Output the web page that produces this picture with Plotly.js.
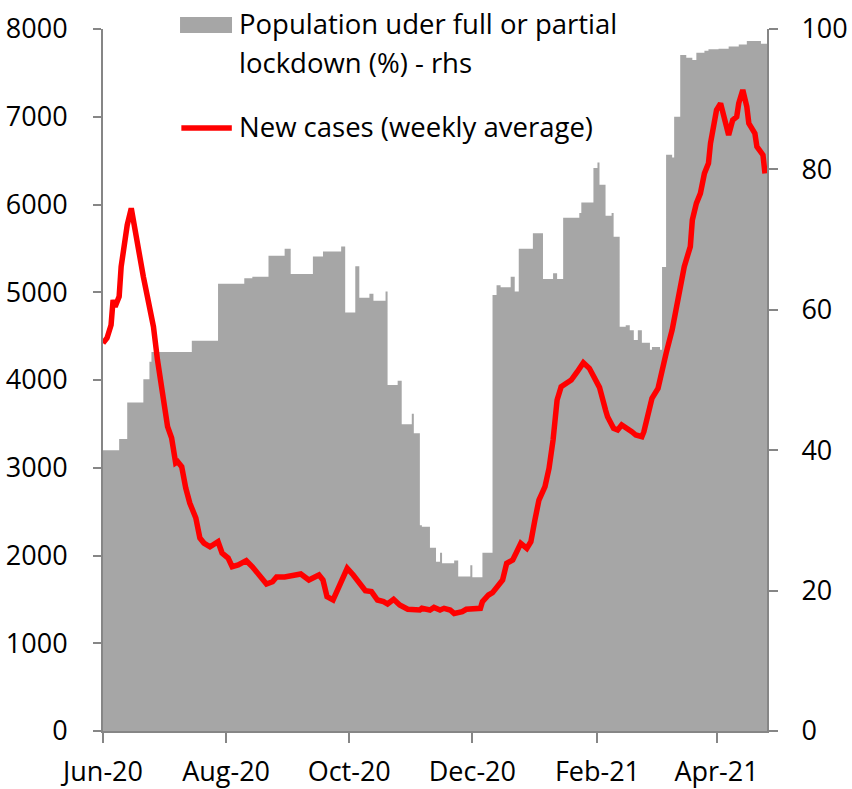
<!DOCTYPE html>
<html>
<head>
<meta charset="utf-8">
<script src="https://cdn.plot.ly/plotly-3.0.1.min.js"></script>
<style>html,body{margin:0;padding:0;background:#fff;}#chart{width:852px;height:789px;}</style>
</head>
<body>
<div id="chart"></div>
<script>
// Population under full or partial lockdown (%) - right axis
const lockDates = ["2020-06-01","2020-06-09","2020-06-13","2020-06-21","2020-06-24","2020-06-25","2020-07-15","2020-07-28","2020-08-10","2020-08-14","2020-08-22","2020-08-30","2020-09-02","2020-09-13","2020-09-18","2020-09-27","2020-09-29","2020-10-04","2020-10-06","2020-10-11","2020-10-13","2020-10-19","2020-10-20","2020-10-25","2020-10-27","2020-11-01","2020-11-02","2020-11-05","2020-11-06","2020-11-10","2020-11-13","2020-11-15","2020-11-16","2020-11-22","2020-11-24","2020-11-30","2020-12-01","2020-12-06","2020-12-11","2020-12-13","2020-12-15","2020-12-20","2020-12-22","2020-12-24","2020-12-31","2021-01-05","2021-01-10","2021-01-12","2021-01-15","2021-01-23","2021-01-24","2021-01-30","2021-02-01","2021-02-02","2021-02-05","2021-02-08","2021-02-09","2021-02-12","2021-02-15","2021-02-17","2021-02-19","2021-02-21","2021-02-23","2021-02-27","2021-02-28","2021-03-04","2021-03-05","2021-03-07","2021-03-10","2021-03-11","2021-03-14","2021-03-17","2021-03-20","2021-03-22","2021-03-26","2021-03-28","2021-04-02","2021-04-07","2021-04-12","2021-04-16","2021-04-21","2021-04-23","2021-04-26"];
const lockValues = [40,41.6,46.8,50.1,52.6,54.0,55.6,63.7,64.5,64.7,67.7,68.7,65.1,67.6,68.3,69.0,59.6,66.2,61.7,62.3,61.3,62.6,49.3,49.9,43.7,45.2,42.4,29.3,29.1,26.1,24.1,25.4,23.9,24.3,22.0,23.6,21.9,25.4,62.1,63.5,63.2,64.7,62.6,68.7,70.9,64.4,65.2,64.4,73.1,73.8,75.3,80.2,81.0,77.8,73.4,73.8,70.4,57.6,57.8,57.1,55.7,57.1,55.3,54.3,54.7,54.3,66.1,82.1,81.7,87.5,96.3,95.9,95.6,96.6,96.9,97.1,97.2,97.5,97.8,98.3,98.3,97.9,98.1];

// New cases (weekly average) - left axis
const caseDates = ["2020-06-01","2020-06-03","2020-06-05","2020-06-06","2020-06-07","2020-06-09","2020-06-10","2020-06-12","2020-06-13","2020-06-15","2020-06-17","2020-06-18","2020-06-20","2020-06-21","2020-06-23","2020-06-24","2020-06-26","2020-06-28","2020-06-29","2020-07-01","2020-07-03","2020-07-05","2020-07-07","2020-07-08","2020-07-10","2020-07-12","2020-07-14","2020-07-17","2020-07-19","2020-07-21","2020-07-24","2020-07-28","2020-07-30","2020-08-02","2020-08-04","2020-08-07","2020-08-11","2020-08-14","2020-08-16","2020-08-19","2020-08-21","2020-08-24","2020-08-26","2020-08-30","2020-09-03","2020-09-07","2020-09-11","2020-09-13","2020-09-16","2020-09-18","2020-09-20","2020-09-23","2020-09-25","2020-09-27","2020-09-30","2020-10-03","2020-10-06","2020-10-09","2020-10-12","2020-10-15","2020-10-18","2020-10-20","2020-10-23","2020-10-26","2020-10-30","2020-11-02","2020-11-05","2020-11-06","2020-11-10","2020-11-12","2020-11-15","2020-11-17","2020-11-20","2020-11-22","2020-11-26","2020-11-28","2020-12-01","2020-12-05","2020-12-06","2020-12-09","2020-12-11","2020-12-14","2020-12-16","2020-12-18","2020-12-21","2020-12-23","2020-12-25","2020-12-28","2020-12-30","2021-01-01","2021-01-03","2021-01-06","2021-01-08","2021-01-10","2021-01-12","2021-01-14","2021-01-17","2021-01-19","2021-01-22","2021-01-25","2021-01-28","2021-01-31","2021-02-02","2021-02-05","2021-02-06","2021-02-09","2021-02-11","2021-02-13","2021-02-16","2021-02-18","2021-02-20","2021-02-23","2021-02-24","2021-02-26","2021-02-28","2021-03-03","2021-03-05","2021-03-07","2021-03-10","2021-03-12","2021-03-15","2021-03-16","2021-03-19","2021-03-20","2021-03-22","2021-03-24","2021-03-26","2021-03-28","2021-03-29","2021-03-31","2021-04-01","2021-04-03","2021-04-05","2021-04-07","2021-04-09","2021-04-11","2021-04-12","2021-04-14","2021-04-16","2021-04-17","2021-04-20","2021-04-21","2021-04-24","2021-04-25"];
const caseValues = [4420,4478,4627,4912,4836,4950,5292,5633,5766,5957,5675,5576,5333,5177,4950,4855,4607,4228,4076,3750,3468,3339,3054,3069,3012,2769,2598,2427,2199,2142,2100,2157,2028,1971,1872,1892,1941,1872,1815,1721,1675,1701,1755,1755,1778,1789,1721,1740,1778,1721,1531,1493,1607,1701,1854,1778,1683,1599,1588,1493,1474,1447,1501,1436,1387,1379,1379,1398,1379,1409,1379,1398,1379,1340,1360,1387,1387,1398,1474,1550,1576,1650,1721,1911,1949,2043,2139,2082,2157,2405,2632,2784,2993,3316,3772,3924,3981,4000,4095,4198,4133,4000,3916,3658,3582,3449,3430,3487,3449,3411,3373,3354,3411,3601,3791,3905,4133,4304,4570,4817,5102,5292,5520,5823,6013,6127,6355,6469,6697,6963,7077,7153,6963,6792,6963,7000,7153,7305,7115,6925,6811,6659,6564,6355];

// Axis ticks and labels
const xTickVals = ["2020-06-01","2020-08-01","2020-10-01","2020-12-01","2021-02-01","2021-04-01"];
const xTickText = ["Jun-20","Aug-20","Oct-20","Dec-20","Feb-21","Apr-21"];
const leftTickVals = [0,1000,2000,3000,4000,5000,6000,7000,8000];
const rightTickVals = [0,20,40,60,80,100];

const lockName = "Population uder full or partial lockdown (%) - rhs";
const caseName = "New cases (weekly average)";

const FONT = "'Open Sans', 'Noto Sans', sans-serif";
const AXIS_COLOR = "#868686";

const traces = [
  {
    x: lockDates, y: lockValues, name: lockName,
    type: "scatter", mode: "lines", line: {shape: "hv", width: 0, color: "#A6A6A6"},
    fill: "tozeroy", fillcolor: "#A6A6A6", xaxis: "x", yaxis: "y", hoverinfo: "x+y"
  },
  {
    x: caseDates, y: caseValues, name: caseName,
    type: "scatter", mode: "lines", line: {color: "#FF0000", width: 5.5},
    xaxis: "x", yaxis: "y2"
  }
];

const layout = {
  width: 852, height: 789,
  margin: {l: 103, r: 85, t: 29, b: 58},
  paper_bgcolor: "#ffffff", plot_bgcolor: "#ffffff",
  font: {family: FONT, size: 27, color: "#000000"},
  showlegend: false,
  xaxis: {
    type: "date", range: ["2020-06-01", "2021-04-26"],
    tickvals: xTickVals, ticktext: xTickText,
    ticks: "outside", ticklen: 10, tickwidth: 2, tickcolor: AXIS_COLOR,
    showline: true, linecolor: AXIS_COLOR, linewidth: 2,
    showgrid: false, zeroline: false, ticklabelstandoff: 6,
    tickfont: {family: FONT, size: 27, color: "#000"}
  },
  yaxis: {
    side: "right", range: [0, 100], tickvals: rightTickVals,
    ticks: "outside", ticklen: 9, tickwidth: 2, tickcolor: AXIS_COLOR,
    showline: true, linecolor: AXIS_COLOR, linewidth: 2,
    showgrid: false, zeroline: false, ticklabelstandoff: 18,
    tickfont: {family: FONT, size: 27, color: "#000"}
  },
  yaxis2: {
    side: "left", overlaying: "y", range: [0, 8000], tickvals: leftTickVals,
    ticks: "outside", ticklen: 8, tickwidth: 2, tickcolor: AXIS_COLOR,
    showline: true, linecolor: AXIS_COLOR, linewidth: 2,
    showgrid: false, zeroline: false, ticklabelstandoff: 20,
    tickfont: {family: FONT, size: 27, color: "#000"}
  },
  shapes: [
    {type: "rect", xref: "paper", yref: "paper", x0: 0.116, x1: 0.1943, y0: 0.9943, y1: 1.0171,
     fillcolor: "#A6A6A6", line: {width: 0}},
    {type: "line", xref: "paper", yref: "paper", x0: 0.118, x1: 0.194, y0: 0.859, y1: 0.859,
     line: {color: "#FF0000", width: 5.5}}
  ],
  annotations: [
    {text: "Population uder full or partial", xref: "paper", yref: "paper", x: 0.2018, y: 1.0085,
     xanchor: "left", yanchor: "middle", showarrow: false, font: {family: FONT, size: 27.5, color: "#000"}},
    {text: "lockdown (%) - rhs", xref: "paper", yref: "paper", x: 0.2018, y: 0.9516,
     xanchor: "left", yanchor: "middle", showarrow: false, font: {family: FONT, size: 27.5, color: "#000"}},
    {text: caseName, xref: "paper", yref: "paper", x: 0.2018, y: 0.8605,
     xanchor: "left", yanchor: "middle", showarrow: false, font: {family: FONT, size: 27.5, color: "#000"}}
  ]
};

Plotly.newPlot("chart", traces, layout, {displayModeBar: false, staticPlot: true});
</script>
</body>
</html>
